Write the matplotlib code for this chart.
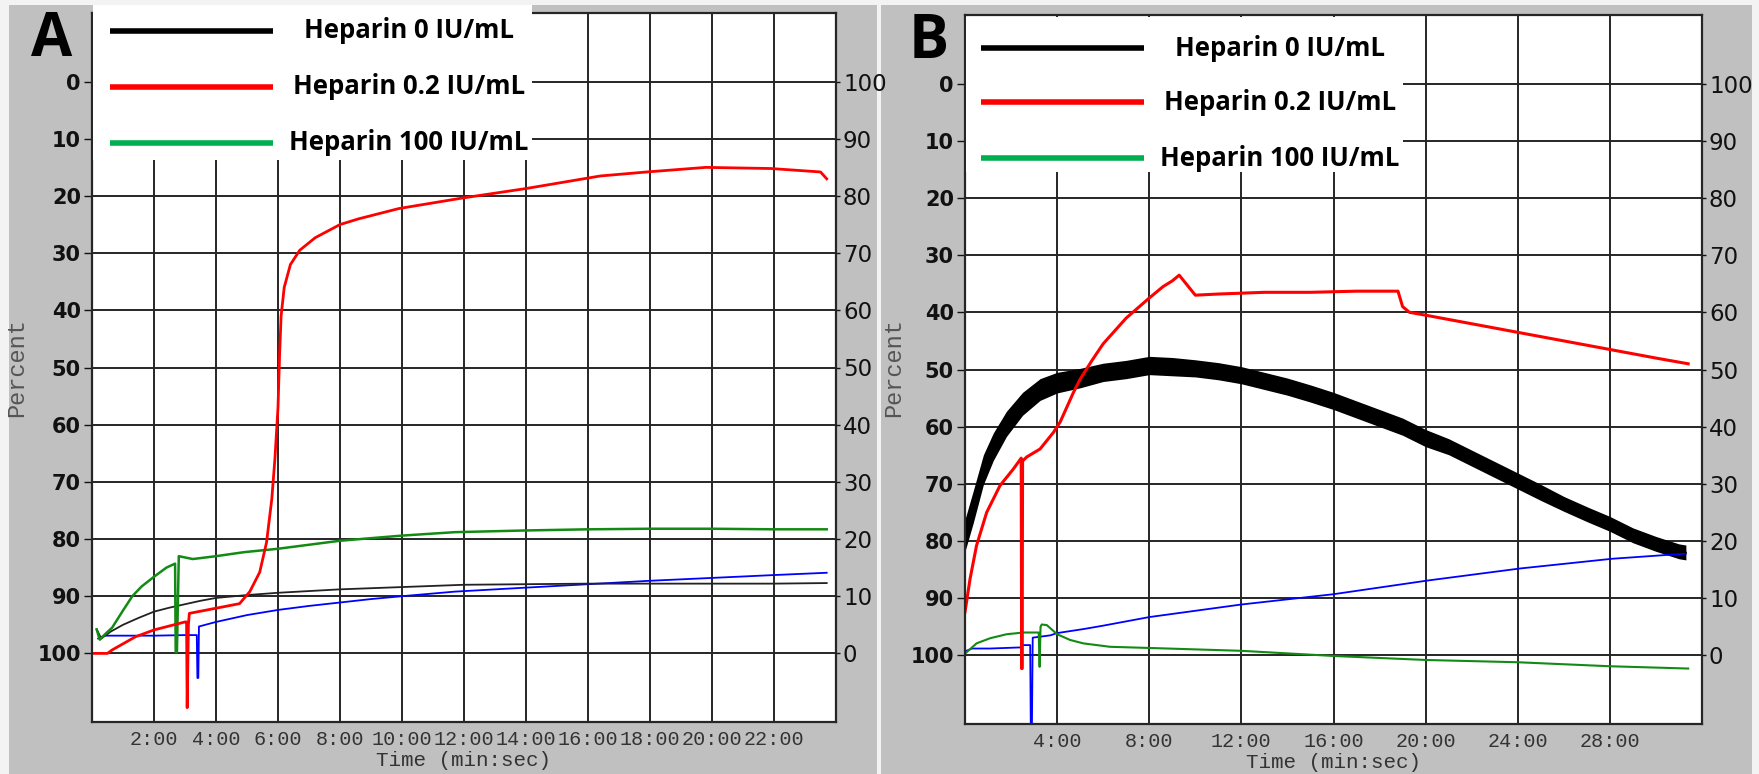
# heparin_aggregation.py
# Two aggregometry traces (panel A / panel B), drawn like the instrument's screen

import matplotlib.pyplot as plt
from matplotlib.patches import Rectangle
from matplotlib.lines import Line2D

W, H = 1759, 774

# ---- panel A data (time in min, left-axis percent, 0 at top) ----
a_black_t = [0.15, 0.3, 0.6, 1.0, 1.5, 2.0, 2.5, 3.0, 3.5, 4.0, 5.0, 6.0, 8.0, 10.0, 12.0, 14.0, 16.0, 18.0, 20.0, 22.0, 23.7]
a_black_v = [95.8, 97.4, 96.2, 95.0, 93.8, 92.7, 92.0, 91.4, 90.8, 90.3, 89.8, 89.4, 88.8, 88.4, 88.0, 87.9, 87.8, 87.8, 87.8, 87.8, 87.7]

a_red_t = [0.0, 0.5, 0.65, 1.4, 2.0, 3.0, 3.05, 3.07, 3.11, 3.14, 4.0, 4.76, 5.09, 5.41, 5.63, 5.8, 5.9,
           6.0, 6.05, 6.1, 6.2, 6.4, 6.7, 7.2, 8.0, 8.6, 9.9, 11.9, 14.0, 16.4, 17.9, 19.8, 21.9, 23.5, 23.7]
a_red_v = [100.0, 100.0, 99.4, 97.1, 95.9, 94.5, 94.5, 109.5, 95.0, 93.0, 92.1, 91.3, 89.2, 85.8, 80.6, 73.0, 66.0,
           57.0, 48.0, 41.0, 36.0, 32.0, 29.5, 27.3, 25.0, 24.0, 22.2, 20.4, 18.7, 16.5, 15.8, 15.0, 15.2, 15.8, 17.0]

a_green_t = [0.15, 0.25, 0.45, 0.65, 1.0, 1.3, 1.6, 2.0, 2.4, 2.68, 2.7, 2.74, 2.8, 3.25, 4.0, 4.9, 6.0,
             8.0, 10.0, 11.7, 14.0, 16.0, 18.0, 20.0, 22.0, 23.7]
a_green_v = [95.8, 97.6, 96.5, 95.5, 92.5, 90.0, 88.3, 86.6, 85.0, 84.3, 99.8, 99.8, 83.0, 83.5, 83.0, 82.3, 81.7,
             80.3, 79.4, 78.8, 78.5, 78.3, 78.2, 78.2, 78.3, 78.3]

a_blue_t = [0.2, 0.4, 1.0, 2.0, 3.0, 3.38, 3.4, 3.43, 3.45, 4.0, 5.0, 6.0, 7.0, 8.0, 9.0, 10.0, 11.7,
            14.0, 16.0, 18.0, 20.0, 22.0, 23.7]
a_blue_v = [97.4, 96.9, 96.9, 96.9, 96.8, 96.8, 104.3, 104.3, 95.3, 94.5, 93.3, 92.4, 91.7, 91.1, 90.5, 90.0, 89.2,
            88.5, 87.9, 87.3, 86.8, 86.3, 85.9]

# ---- panel B data ----
b_black_t = [0.0, 0.36, 0.8, 1.23, 1.8, 2.5, 3.26, 4.0, 5.0, 6.0, 7.0, 8.0, 9.0, 10.0, 11.0, 12.0, 13.0, 14.0,
             15.0, 16.0, 17.0, 18.0, 19.0, 20.0, 21.0, 22.0, 23.0, 24.0, 25.0, 26.0, 27.0, 28.0, 29.0, 30.0, 31.0, 31.3]
b_black_v = [79.0, 74.0, 67.5, 63.5, 59.5, 56.0, 53.5, 52.3, 51.5, 50.5, 50.0, 49.3, 49.5, 49.8, 50.3, 51.0, 52.0, 53.0,
             54.2, 55.5, 57.0, 58.5, 60.0, 62.0, 63.5, 65.5, 67.5, 69.5, 71.5, 73.5, 75.3, 77.0, 79.0, 80.5, 81.8, 82.0]
b_black_spread = [2.8, 2.8, 2.6, 2.4, 2.2, 2.0, 1.9, 1.8, 1.7, 1.6, 1.6, 1.6, 1.6, 1.5, 1.5, 1.5, 1.5, 1.5,
                  1.5, 1.5, 1.5, 1.5, 1.5, 1.5, 1.4, 1.4, 1.4, 1.4, 1.4, 1.3, 1.3, 1.3, 1.3, 1.3, 1.3, 1.3]

b_red_t = [0.0, 0.22, 0.5, 0.94, 1.52, 2.1, 2.44, 2.46, 2.48, 2.5, 2.68, 3.26, 3.84, 4.13, 4.71, 5.0, 5.5, 6.0,
           7.0, 8.0, 8.6, 9.0, 9.3, 9.6, 10.0, 11.0, 13.0, 15.0, 17.0, 18.8, 19.0, 19.3, 20.0, 22.0, 24.0, 26.0,
           28.0, 30.0, 31.4]
b_red_v = [92.4, 86.6, 80.8, 75.0, 70.3, 67.4, 65.5, 102.3, 102.3, 66.0, 65.3, 63.9, 61.0, 59.2, 54.0, 51.7, 48.5, 45.5,
           41.0, 37.5, 35.5, 34.5, 33.5, 35.0, 37.0, 36.8, 36.5, 36.5, 36.3, 36.3, 39.0, 40.0, 40.5, 42.0, 43.5, 45.0,
           46.5, 48.0, 49.0]

b_green_t = [0.0, 0.5, 1.09, 1.81, 2.54, 3.12, 3.2, 3.24, 3.28, 3.33, 3.55, 4.0, 4.56, 5.14, 6.3, 8.0, 12.0,
             16.0, 20.0, 24.0, 28.0, 31.4]
b_green_v = [99.7, 97.9, 97.0, 96.3, 96.0, 96.0, 96.0, 102.0, 95.0, 94.6, 94.7, 96.3, 97.3, 97.9, 98.5, 98.7, 99.2,
             100.1, 100.8, 101.2, 101.9, 102.3]

b_blue_t = [0.0, 0.3, 1.09, 2.46, 2.5, 2.83, 2.86, 2.9, 2.94, 3.7, 4.0, 5.14, 6.0, 8.0, 10.0, 12.0, 14.0, 16.0,
            20.1, 24.1, 28.1, 31.3]
b_blue_v = [99.3, 98.8, 98.8, 98.6, 98.2, 98.2, 115.0, 115.0, 96.9, 96.5, 96.1, 95.4, 94.8, 93.3, 92.2, 91.1, 90.2,
            89.3, 86.9, 84.8, 83.1, 82.2]

legend_labels = ['Heparin 0 IU/mL', 'Heparin 0.2 IU/mL', 'Heparin 100 IU/mL']
legend_colors = ['#000000', '#ff0000', '#00b050']

RED, GREEN, BLUE = '#ff0000', '#138a13', '#0000ff'
GRID = '#262626'


def fx(px):
    return px / W


def fy(py):
    return 1 - py / H


fig = plt.figure(figsize=(W / 100, H / 100), dpi=100, facecolor='#f3f3f3')

# gray instrument background for each panel
for x0, x1 in [(9, 877), (881, 1752)]:
    fig.add_artist(Rectangle((fx(x0), 0), fx(x1) - fx(x0), fy(5), transform=fig.transFigure,
                             facecolor='#c0c0c0', edgecolor='none', zorder=-1))


def setup_panel(box, xmax, xticks):
    left, top, right, bottom = box
    ax = fig.add_axes([fx(left), fy(bottom), fx(right) - fx(left), fy(top) - fy(bottom)])
    ax.set_facecolor('white')
    ax.set_xlim(0, xmax)
    ax.set_ylim(112, -12)
    ax.set_axisbelow(True)
    ax.grid(True, color=GRID, lw=1.4)
    for s in ax.spines.values():
        s.set_color(GRID)
        s.set_linewidth(1.6)

    yt = list(range(0, 101, 10))
    ax.set_yticks(yt, [str(v) for v in yt], fontsize=15, fontweight='bold', family='DejaVu Sans')
    ax.tick_params(axis='y', length=6, width=1, pad=2, colors='#111111')
    ax.set_xticks(xticks, [f'{t}:00' for t in xticks], fontsize=14.5, family='Liberation Mono')
    ax.tick_params(axis='x', length=0, pad=6, labelcolor='#333333')
    ax.set_xlabel('Time (min:sec)', fontsize=15, family='Liberation Mono', color='#333333', labelpad=1)

    ax2 = ax.twinx()
    ax2.set_ylim(-12, 112)
    ax2.set_yticks(yt, [str(v) for v in yt], fontsize=16.5, family='DejaVu Sans')
    ax2.tick_params(axis='y', length=3, width=1, pad=2, colors='#111111')
    for s in ax2.spines.values():
        s.set_visible(False)
    return ax


def draw_legend(box, handle_x, text_x, rows):
    x0, y0, x1, y1 = box
    fig.add_artist(Rectangle((fx(x0), fy(y1)), fx(x1) - fx(x0), fy(y0) - fy(y1), transform=fig.transFigure,
                             facecolor='white', edgecolor='none', zorder=5))
    for lab, col, ry in zip(legend_labels, legend_colors, rows):
        fig.add_artist(Line2D([fx(handle_x[0]), fx(handle_x[1])], [fy(ry), fy(ry)], transform=fig.transFigure,
                              color=col, lw=4, solid_capstyle='butt', zorder=6))
        fig.text(fx(text_x), fy(ry), lab, ha='center', va='center', fontsize=18.5, fontweight='bold',
                 family=['Open Sans', 'DejaVu Sans'], zorder=7)


# ---- panel A ----
axA = setup_panel((92, 13, 836, 722), 24, list(range(2, 23, 2)))
axA.plot(a_blue_t, a_blue_v, color=BLUE, lw=1.3)
axA.plot(a_black_t, a_black_v, color='#222222', lw=1.3)
axA.plot(a_green_t, a_green_v, color=GREEN, lw=1.8)
axA.plot(a_red_t, a_red_v, color=RED, lw=2.0)

# ---- panel B ----
axB = setup_panel((965, 15, 1702, 724), 32, list(range(4, 29, 4)))
axB.plot(b_blue_t, b_blue_v, color=BLUE, lw=1.3)
axB.plot(b_green_t, b_green_v, color=GREEN, lw=1.5)
lo = [v - s for v, s in zip(b_black_v, b_black_spread)]
hi = [v + s for v, s in zip(b_black_v, b_black_spread)]
axB.fill_between(b_black_t, lo, hi, color='black', lw=0)
axB.plot(b_black_t, b_black_v, color='black', lw=1.2)
axB.plot(b_red_t, b_red_v, color=RED, lw=2.2)

draw_legend((93, 5, 532, 160), (110, 273), 409, (31, 87, 143))
draw_legend((966, 17, 1403, 172), (981, 1144), 1280, (48, 102, 158))

for x in (17, 894):
    fig.text(fx(x), fy(368), 'Percent', rotation=90, ha='center', va='center', fontsize=17,
             family='Liberation Mono', color='#555555')

fig.text(fx(52), fy(41), 'A', ha='center', va='center', fontsize=43, fontweight='bold',
         family=['Open Sans', 'DejaVu Sans'])
fig.text(fx(929), fy(43), 'B', ha='center', va='center', fontsize=43, fontweight='bold',
         family=['Open Sans', 'DejaVu Sans'])

fig.savefig('out.png', dpi=100, facecolor=fig.get_facecolor())
